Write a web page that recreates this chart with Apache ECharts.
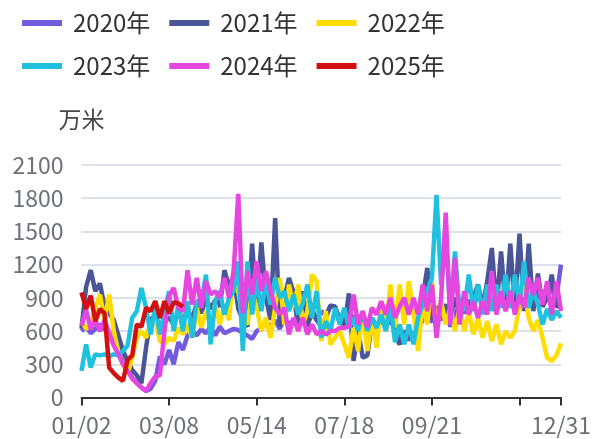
<!DOCTYPE html>
<html>
<head>
<meta charset="utf-8">
<script src="https://cdn.jsdelivr.net/npm/echarts@6/dist/echarts.min.js"></script>
<style>html,body{margin:0;padding:0;background:#fff;}#c{width:598px;height:439px;}</style>
</head>
<body>
<div id="c"></div>
<script>
var categories = ['01/02','01/05','01/09','01/12','01/16','01/19','01/23','01/26','01/30','02/02',
'02/06','02/09','02/13','02/16','02/20','02/23','02/27','03/01','03/05','03/08',
'03/12','03/15','03/19','03/22','03/26','03/29','04/02','04/05','04/09','04/12',
'04/16','04/19','04/23','04/26','04/30','05/03','05/07','05/10','05/14','05/17',
'05/21','05/24','05/28','05/31','06/04','06/07','06/11','06/14','06/18','06/21',
'06/25','06/28','07/02','07/05','07/09','07/12','07/15','07/18','07/21','07/25',
'07/28','08/01','08/04','08/08','08/11','08/15','08/18','08/22','08/25','08/29',
'09/01','09/05','09/08','09/12','09/15','09/18','09/21','09/25','09/28','10/02',
'10/05','10/09','10/12','10/16','10/19','10/23','10/26','10/30','11/02','11/06',
'11/09','11/13','11/16','11/20','11/23','11/27','11/30','12/04','12/07','12/11',
'12/15','12/19','12/23','12/27','12/31'];

var yTicks = [0,300,600,900,1200,1500,1800,2100];

var s2020 = [600,640,580,620,660,620,560,480,420,330,
250,180,130,90,60,80,150,370,300,430,
300,500,430,560,600,560,620,580,640,560,
640,580,600,620,610,580,560,530,600,620,
680,640,700,620,720,660,700,640,720,660,
760,700,780,740,830,820,700,760,680,740,
660,700,640,720,620,700,640,720,600,540,
560,520,580,620,700,760,680,760,700,780,
640,760,820,760,880,800,960,820,900,840,
880,820,920,840,900,860,960,880,940,900,
960,880,1000,900,1200];

var s2021 = [620,1000,1150,960,1030,820,760,700,560,420,
330,250,200,130,450,720,700,760,700,720,
660,760,700,800,700,860,760,900,800,880,
820,1150,1000,1100,800,700,640,1390,800,1400,
900,700,1620,640,900,1080,950,620,960,640,
800,700,640,720,830,820,700,640,940,330,
600,360,380,680,600,720,620,760,560,480,
600,540,560,620,900,1170,700,820,760,840,
720,900,750,860,800,900,1020,820,1050,1350,
800,1320,800,1390,800,1480,780,1390,780,1120,
820,900,1110,820,840];

var s2022 = [690,620,660,810,930,700,930,600,400,300,
220,360,540,600,540,660,720,510,480,540,
510,630,570,660,540,810,630,780,660,840,
660,840,700,1170,960,720,660,960,810,600,
720,540,810,1080,660,1020,810,1020,660,780,
1110,1050,510,780,480,540,600,480,360,630,
420,780,420,720,450,870,600,1020,630,1020,
660,1050,780,420,870,660,1050,600,870,660,
810,600,810,600,780,570,720,540,690,510,
660,480,600,540,600,840,1020,720,600,700,
540,360,330,380,490];

var s2023 = [240,480,270,390,380,390,370,390,380,420,
470,720,780,990,810,570,840,570,780,960,
600,840,600,870,540,870,870,1110,480,870,
960,750,900,960,1230,420,1230,750,1080,780,
1050,840,1080,900,960,780,930,750,850,1020,
720,960,540,690,600,810,660,810,630,720,
600,780,600,720,630,750,600,840,500,660,
480,660,480,720,840,960,1080,1830,1020,1440,
780,1320,780,800,1110,780,1020,750,1020,780,
1020,810,1110,810,1110,840,1230,810,960,840,
660,800,700,780,720];

var s2024 = [650,790,620,700,600,700,590,470,390,300,
240,170,130,90,60,130,190,200,600,920,
990,810,780,1150,840,1080,810,1050,930,960,
900,1080,900,1140,1840,760,1140,930,1230,960,
1140,960,810,750,810,570,720,600,720,570,
660,570,600,570,600,600,630,630,640,930,
660,780,630,810,750,870,750,900,720,820,
900,750,900,750,1020,780,1020,540,900,1670,
660,1260,660,960,750,870,720,870,750,1140,
750,960,780,960,750,930,810,1080,930,1080,
840,1050,750,1050,780];

var s2025 = [950,800,920,690,800,760,270,220,180,150,
340,380,660,640,810,780,870,720,870,760,
860,850,820];

var names = ['2020年','2021年','2022年','2023年','2024年','2025年'];
var colors = ['#735BE0','#4A5598','#FFDD00','#20C0DF','#E646E0','#D31010'];
var seriesData = [s2020, s2021, s2022, s2023, s2024, s2025];

var chart = echarts.init(document.getElementById('c'), null, {renderer:'canvas'});
var FONT = '"Noto Sans CJK SC", "Noto Sans", sans-serif';
var lastIdx = categories.length - 1;
var option = {
  animation: false,
  backgroundColor: '#fff',
  color: colors,
  textStyle: {fontFamily: FONT},
  legend: {
    left: 17, top: 6, width: 475,
    icon: 'rect', itemWidth: 40, itemHeight: 6, itemGap: 19,
    textStyle: {fontSize: 24, color: '#333', fontFamily: FONT, padding: [0,0,0,6]},
    data: names
  },
  grid: {left: 81.5, right: 37, top: 165, bottom: 41.5, containLabel: false},
  xAxis: {
    type: 'category',
    boundaryGap: false,
    data: categories,
    axisLine: {lineStyle: {color: '#333', width: 2}},
    axisTick: {length: 8, lineStyle: {width: 2, color: '#333'},
      interval: function(i){ return i % 19 === 0 || i === lastIdx; }},
    axisLabel: {fontSize: 23, color: '#6E7079', margin: 16, fontFamily: FONT,
      interval: function(i){ return (i % 19 === 0 && i !== 95) || i === lastIdx; }}
  },
  yAxis: {
    type: 'value',
    min: yTicks[0], max: yTicks[yTicks.length-1], interval: 300,
    name: '万米',
    nameGap: 34,
    nameTextStyle: {fontSize: 23, color: '#464646', fontFamily: FONT, align: 'center'},
    axisLabel: {fontSize: 23, color: '#6E7079', margin: 18, fontFamily: FONT,
      formatter: function(v){ return String(v); }},
    splitLine: {lineStyle: {color: '#DDE1EB', width: 2}},
    axisLine: {show: false}, axisTick: {show: false}
  },
  series: names.map(function(n, k){
    return {
      name: n, type: 'line', data: seriesData[k],
      showSymbol: false, symbol: 'none',
      lineStyle: {width: 4.5, color: colors[k]},
      itemStyle: {color: colors[k]}
    };
  })
};
chart.setOption(option);
</script>
</body>
</html>
